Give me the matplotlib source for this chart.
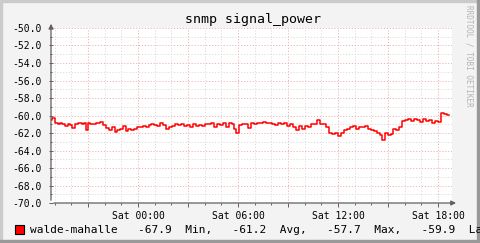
import matplotlib
matplotlib.use("Agg")
import matplotlib.pyplot as plt
from matplotlib.patches import Rectangle
from matplotlib.ticker import MultipleLocator, FuncFormatter

# hours relative to Sat 00:00
hours = [-5.22, -5.16, -4.98, -4.80, -4.68, -4.56, -4.38, -4.20, -4.08, -3.96,
         -3.78, -3.60, -3.36, -3.24, -3.12, -3.00, -2.88, -2.70, -2.52, -2.28,
         -2.10, -1.92, -1.74, -1.56, -1.38, -1.26, -1.08, -0.90, -0.72, -0.60,
         -0.42, -0.24, -0.06, 0.12, 0.30, 0.48, 0.66, 0.78, 0.96, 1.14,
         1.32, 1.50, 1.68, 1.86, 2.04, 2.22, 2.40, 2.58, 2.76, 2.94,
         3.12, 3.30, 3.48, 3.66, 3.84, 4.02, 4.20, 4.38, 4.56, 4.74,
         4.92, 5.10, 5.28, 5.46, 5.64, 5.76, 5.88, 6.06, 6.24, 6.42,
         6.60, 6.78, 6.96, 7.14, 7.32, 7.50, 7.68, 7.86, 8.04, 8.22,
         8.40, 8.58, 8.76, 8.94, 9.12, 9.30, 9.48, 9.66, 9.84, 10.02,
         10.20, 10.38, 10.56, 10.74, 10.92, 11.10, 11.28, 11.46, 11.64, 11.82,
         12.00, 12.18, 12.36, 12.54, 12.72, 12.90, 13.08, 13.26, 13.44, 13.62,
         13.80, 13.98, 14.16, 14.34, 14.52, 14.64, 14.82, 15.00, 15.18, 15.30,
         15.48, 15.66, 15.84, 16.02, 16.20, 16.38, 16.56, 16.74, 16.92, 17.10,
         17.28, 17.46, 17.64, 17.82, 18.00, 18.18, 18.36, 18.54, 18.66]

power = [-60.5, -60.3, -60.9, -61.0, -60.8, -61.0, -61.2, -61.0, -61.1, -61.4,
         -61.0, -60.9, -61.0, -60.8, -61.6, -60.9, -61.0, -61.0, -60.8, -60.7,
         -61.1, -61.4, -61.7, -61.3, -61.9, -61.6, -61.5, -61.2, -61.8, -61.5,
         -61.6, -61.5, -61.3, -61.3, -61.2, -61.3, -61.1, -61.0, -61.1, -61.2,
         -60.9, -61.1, -61.5, -61.3, -61.2, -61.0, -61.1, -61.0, -61.2, -61.1,
         -61.3, -61.0, -61.2, -61.1, -61.2, -61.0, -61.0, -60.9, -61.3, -61.0,
         -61.1, -60.9, -61.3, -60.8, -61.0, -61.5, -62.0, -61.1, -61.0, -61.0,
         -61.4, -60.9, -61.0, -60.8, -60.9, -60.7, -60.9, -60.9, -61.0, -61.1,
         -60.9, -61.0, -60.9, -61.2, -61.0, -61.3, -61.6, -61.2, -61.5, -61.2,
         -61.3, -61.0, -61.0, -60.5, -61.0, -61.0, -61.3, -62.0, -62.1, -62.0,
         -62.3, -62.0, -61.7, -61.5, -61.3, -61.2, -61.5, -61.3, -61.3, -61.2,
         -61.5, -61.6, -61.8, -62.0, -62.2, -62.8, -62.0, -62.2, -62.1, -61.5,
         -61.7, -61.3, -60.6, -60.5, -60.4, -60.6, -60.4, -60.5, -60.7, -60.4,
         -60.6, -60.5, -60.8, -60.6, -60.7, -59.7, -59.8, -59.9, -59.95]

tick_hours = [0, 6, 12, 18]
tick_names = ["Sat 00:00", "Sat 06:00", "Sat 12:00", "Sat 18:00"]
legend_line = "walde-mahalle   -67.9  Min,   -61.2  Avg,   -57.7  Max,   -59.9  Last"

W, H = 481, 243
fig = plt.figure(figsize=(W / 100, H / 100), dpi=100)
fig.patch.set_facecolor("#F3F3F3")

# 3d frame like rrdtool
fig.patches.append(Rectangle((0, 0), 2 / W, 1, transform=fig.transFigure, color="#CBCBCB", zorder=0))
fig.patches.append(Rectangle((0, 1 - 2 / H), 1, 2 / H, transform=fig.transFigure, color="#CBCBCB", zorder=0))
fig.patches.append(Rectangle((1 - 4 / W, 0), 4 / W, 1, transform=fig.transFigure, color="#999999", zorder=0))
fig.patches.append(Rectangle((0, 0), 1, 3 / H, transform=fig.transFigure, color="#999999", zorder=0))

left, right, top, bottom = 51, 452, 28, 203
ax = fig.add_axes([left / W, 1 - bottom / H, (right - left) / W, (bottom - top) / H])
ax.set_facecolor("white")

ax.plot(hours, power, color="#FF0000", lw=1.1, drawstyle="steps-post", zorder=3)

ax.set_xlim(-5.22, 18.84)
ax.set_ylim(-70, -50)

ax.xaxis.set_major_locator(MultipleLocator(3))
ax.xaxis.set_minor_locator(MultipleLocator(1))
ax.xaxis.set_major_formatter(FuncFormatter(
    lambda v, p: tick_names[tick_hours.index(int(round(v)))] if int(round(v)) in tick_hours else ""))
ax.yaxis.set_major_locator(MultipleLocator(2))
ax.yaxis.set_minor_locator(MultipleLocator(1))
ax.yaxis.set_major_formatter(FuncFormatter(lambda v, p: "%.1f" % v))

ax.grid(which="major", color="#EDB4B4", lw=0.7, ls=(0, (1.2, 1.8)))
ax.grid(which="minor", color="#DCDCDC", lw=0.7, ls=(0, (1.2, 1.8)))
ax.set_axisbelow(True)

for lab in ax.get_xticklabels() + ax.get_yticklabels():
    lab.set_family("DejaVu Sans Mono")
ax.tick_params(which="both", labelsize=7, colors="#606060", labelcolor="black", width=0.7)
ax.tick_params(axis="y", which="major", length=3, direction="inout", pad=5)
ax.tick_params(axis="y", which="minor", length=2, direction="inout")
ax.tick_params(axis="x", which="major", length=3, direction="out", pad=3)
ax.tick_params(axis="x", which="minor", length=1.5, direction="out")

for s in ax.spines.values():
    s.set_visible(False)

# axes with arrows
ax.annotate("", xy=(0, 1.04), xytext=(0, 0), xycoords="axes fraction",
            arrowprops=dict(arrowstyle="-|>", color="#606060", lw=0.9, mutation_scale=7), zorder=5)
ax.annotate("", xy=(1.017, 0), xytext=(0, 0), xycoords="axes fraction",
            arrowprops=dict(arrowstyle="-|>", color="#606060", lw=0.9, mutation_scale=7), zorder=5)

fig.text(0.5 * (left + right) / W + 0.003, 1 - 19 / H, "snmp signal_power", family="DejaVu Sans Mono",
         fontsize=9.5, ha="center", va="center", color="black")
fig.text(469 / W, 1 - 5 / H, "RRDTOOL / TOBI OETIKER", family="DejaVu Sans Mono", fontsize=5.5,
         rotation=270, ha="center", va="top", color="#B4B4B4")

fig.patches.append(Rectangle((15 / W, 1 - 234 / H), 9 / W, 9 / H, transform=fig.transFigure,
                             facecolor="#FF0000", edgecolor="black", lw=0.8, zorder=3))
fig.text(30 / W, 1 - 229.5 / H, legend_line, family="DejaVu Sans Mono", fontsize=8,
         ha="left", va="center", color="black")

fig.savefig("out.png", dpi=100, facecolor=fig.get_facecolor())
